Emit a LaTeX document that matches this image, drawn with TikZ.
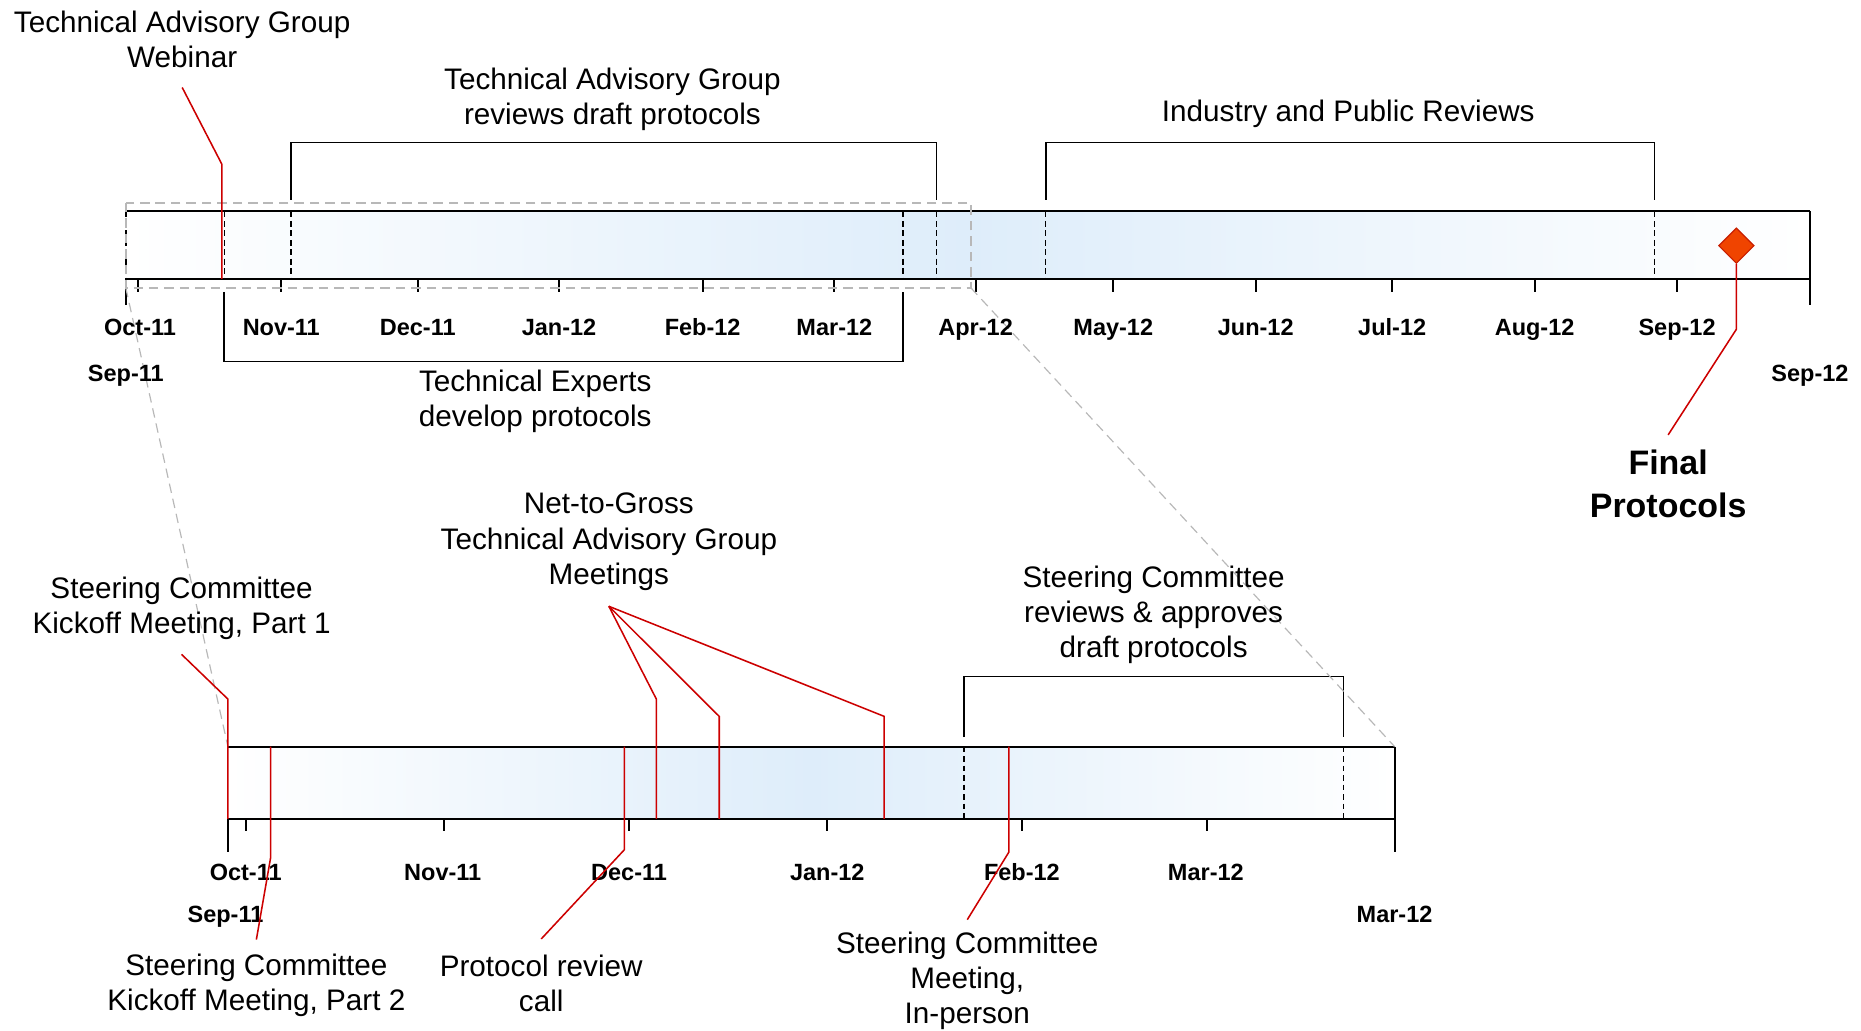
\documentclass[tikz,border=0pt]{standalone}
\usepackage{fontspec}
\setmainfont{Liberation Sans}
\usetikzlibrary{shapes.geometric}
\definecolor{barblue}{RGB}{222,237,250}
\definecolor{leadred}{RGB}{204,0,0}
\definecolor{mileorange}{RGB}{240,68,0}
\definecolor{mileedge}{RGB}{200,30,0}

\tikzset{
  note/.style={align=center, inner sep=0pt, font=\fontsize{12.5}{14.8}\selectfont},
  datelbl/.style={anchor=base, inner sep=0pt, font=\fontsize{9.9}{12}\selectfont\bfseries},
  leader/.style={draw=leadred, line width=0.65pt},
  edge/.style={draw=black, line width=0.85pt},
  bracket/.style={draw=black, line width=0.75pt},
  phaseln/.style={draw=black, line width=0.65pt, dash pattern={on 2.5pt off 1.5pt}},
  zoomln/.style={draw=black!28, line width=0.75pt, dash pattern={on 4pt off 2.5pt}},
}

\begin{document}
\begin{tikzpicture}[x=0.5pt,y=0.5pt,yscale=-1,xscale=1]
\path[use as bounding box] (0,0) rectangle (1568,868);

%Shape: top bar
\shade[left color=white,right color=white,middle color=barblue] (106,178) rectangle (1525,235);
\draw[edge] (106,178) -- (1525,178);
\draw[edge] (106,235) -- (1525,235);
\draw[edge] (1525,178) -- (1525,257);
\draw[edge] (106,235) -- (106,257);
\draw[phaseln] (106,178) -- (106,235);
%Straight Lines: phase marks top
\draw[phaseln] (189,178) -- (189,235);
\draw[phaseln] (245,178) -- (245,235);
\draw[phaseln] (761,178) -- (761,235);
\draw[phaseln] (789,178) -- (789,235);
\draw[phaseln] (881,178) -- (881,235);
\draw[phaseln] (1394,178) -- (1394,235);
%Straight Lines: ticks top
\draw[edge] (116,235) -- (116,246);
\draw[edge] (237,235) -- (237,246);
\draw[edge] (352,235) -- (352,246);
\draw[edge] (471,235) -- (471,246);
\draw[edge] (592,235) -- (592,246);
\draw[edge] (703,235) -- (703,246);
\draw[edge] (822,235) -- (822,246);
\draw[edge] (938,235) -- (938,246);
\draw[edge] (1058,235) -- (1058,246);
\draw[edge] (1173,235) -- (1173,246);
\draw[edge] (1293,235) -- (1293,246);
\draw[edge] (1413,235) -- (1413,246);

%Shape: zoom box
\coordinate (boxbl) at (106,242.5);
\coordinate (boxbr) at (818,242.5);
\draw[zoomln] (106,171) rectangle (818,242.5);

%Shape: brackets top
\draw[bracket] (245,168.5) -- (245,120) -- (789,120) -- (789,168.5);
\draw[bracket] (881,168.5) -- (881,120) -- (1394,120) -- (1394,168.5);
\draw[bracket] (189,246) -- (189,304.5) -- (761,304.5) -- (761,246);

%Shape: lower bar
\coordinate (lowtl) at (192,629);
\coordinate (lowtr) at (1175,629);
\shade[left color=white,right color=white,middle color=barblue] (192,629) rectangle (1175,690);
\draw[edge] (lowtl) -- (lowtr);
\draw[edge] (192,690) -- (1175,690);
\draw[edge] (lowtr) -- (1175,718);
\draw[edge] (192,690) -- (192,718);
\draw[phaseln] (812,629) -- (812,690);
\draw[phaseln] (1132,629) -- (1132,690);
%Straight Lines: ticks lower
\draw[edge] (207,690) -- (207,700);
\draw[edge] (374,690) -- (374,700);
\draw[edge] (530,690) -- (530,700);
\draw[edge] (697,690) -- (697,700);
\draw[edge] (861,690) -- (861,700);
\draw[edge] (1017,690) -- (1017,700);
\draw[bracket] (812,621) -- (812,570) -- (1132,570) -- (1132,621);

%Straight Lines: zoom guides
\draw[zoomln, line width=0.5pt] (boxbl) -- (lowtl);
\draw[zoomln, line width=0.5pt] (boxbr) -- (lowtr);

% Text Node
\node (tagweb) at (153.5,33.3) [note] {Technical Advisory Group\\Webinar};
% Text Node
\node (tagrev) at (516,84) [note] {Technical Advisory Group\\reviews draft protocols};
% Text Node
\node (pubrev) at (1136,96) [note] {Industry and Public Reviews};
% Text Node
\node (expdev) at (451,338) [note] {Technical Experts\\develop protocols};
% Text Node
\node (final) at (1405.5,407.5) [align=center, inner sep=0pt, font=\fontsize{14.3}{18.2}\selectfont\bfseries] {Final\\Protocols};
% Text Node
\node (ntg) at (513,456.5) [note] {Net-to-Gross\\Technical Advisory Group\\Meetings};
% Text Node
\node (kick1) at (153,512.5) [note] {Steering Committee\\Kickoff Meeting, Part 1};
% Text Node
\node (screv) at (972,518) [note] {Steering Committee\\reviews \& approves\\draft protocols};
% Text Node
\node (kick2) at (216,830.5) [note] {Steering Committee\\Kickoff Meeting, Part 2};
% Text Node
\node (prcall) at (456,828.5) [note] {Protocol review\\call};
% Text Node
\node (scmeet) at (815,826.5) [note] {Steering Committee\\Meeting,\\In-person};

% Date labels top
\node (sep11a) at (106,321.6) [datelbl] {Sep-11};
\node (oct11a) at (118,283) [datelbl] {Oct-11};
\node (nov11a) at (237,283) [datelbl] {Nov-11};
\node (dec11a) at (352,283) [datelbl] {Dec-11};
\node (jan12a) at (471,283) [datelbl] {Jan-12};
\node (feb12a) at (592,283) [datelbl] {Feb-12};
\node (mar12a) at (703,283) [datelbl] {Mar-12};
\node (apr12a) at (822,283) [datelbl] {Apr-12};
\node (may12a) at (938,283) [datelbl] {May-12};
\node (jun12a) at (1058,283) [datelbl] {Jun-12};
\node (jul12a) at (1173,283) [datelbl] {Jul-12};
\node (aug12a) at (1293,283) [datelbl] {Aug-12};
\node (sep12a) at (1413,283) [datelbl] {Sep-12};
\node (sep12b) at (1525,321.6) [datelbl] {Sep-12};
% Date labels lower
\node (sep11b) at (190,777) [datelbl] {Sep-11};
\node (oct11b) at (207,742) [datelbl] {Oct-11};
\node (nov11b) at (373,742) [datelbl] {Nov-11};
\node (dec11b) at (530,742) [datelbl] {Dec-11};
\node (jan12b) at (697,742) [datelbl] {Jan-12};
\node (feb12b) at (861,742) [datelbl] {Feb-12};
\node (mar12b) at (1016,742) [datelbl] {Mar-12};
\node (mar12c) at (1175,777) [datelbl] {Mar-12};

%Shape: milestone
\node (mile) at (1463,207) [diamond, draw=mileedge, fill=mileorange, line width=0.5pt, inner sep=0pt, minimum width=15pt, minimum height=15pt] {};

%Straight Lines: leaders (yshift is mirrored by yscale=-1)
\coordinate (webbend) at (187,138.5);
\coordinate (webfoot) at (187,235);
\draw[leader] ([yshift=8pt]tagweb.south) -- (webbend) -- (webfoot);
\coordinate (milebend) at (1463,277.4);
\draw[leader] (mile.south) -- (milebend) -- ([yshift=-6pt]final.north);
\coordinate (k1bend) at (192,589);
\coordinate (k1foot) at (192,690);
\draw[leader] ([yshift=6pt]kick1.south) -- (k1bend) -- (k1foot);
\coordinate (ntgapex) at ([yshift=6.5pt]ntg.south);
\coordinate (ntgbenda) at (553,589);
\coordinate (ntgfoota) at (553,690);
\coordinate (ntgbendb) at (606,603.6);
\coordinate (ntgfootb) at (606,690);
\coordinate (ntgbendc) at (745,603.6);
\coordinate (ntgfootc) at (745,690);
\draw[leader] (ntgapex) -- (ntgbenda) -- (ntgfoota);
\draw[leader] (ntgapex) -- (ntgbendb) -- (ntgfootb);
\draw[leader] (ntgapex) -- (ntgbendc) -- (ntgfootc);
\coordinate (k2top) at (228,629);
\coordinate (k2bend) at (228,722.7);
\draw[leader] (k2top) -- (k2bend) -- ([yshift=-6pt]kick2.north);
\coordinate (prtop) at (526,629);
\coordinate (prbend) at (526,716);
\draw[leader] (prtop) -- (prbend) -- ([yshift=-6.5pt]prcall.north);
\coordinate (smtop) at (850,629);
\coordinate (smbend) at (850,718);
\draw[leader] (smtop) -- (smbend) -- ([yshift=-5pt]scmeet.north);

\end{tikzpicture}
\end{document}
